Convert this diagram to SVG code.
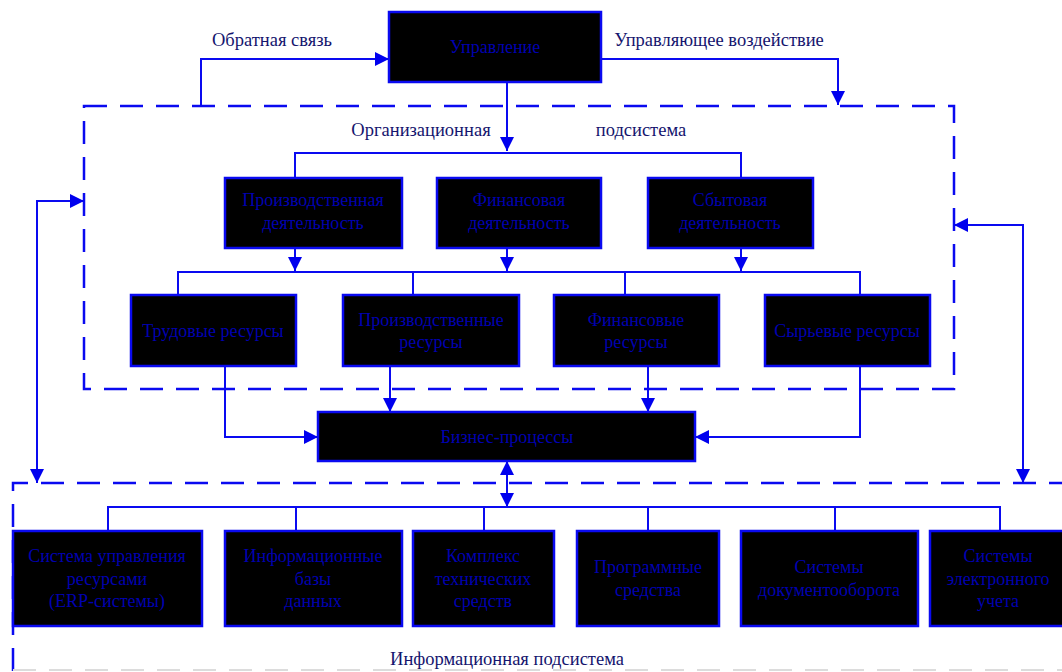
<svg xmlns="http://www.w3.org/2000/svg" width="1062" height="672" viewBox="0 0 1062 672">
<defs>
<marker id="ah" viewBox="0 0 10 10" refX="10" refY="5" markerWidth="14" markerHeight="14" markerUnits="userSpaceOnUse" orient="auto-start-reverse">
<path d="M0,0 L10,5 L0,10 z" fill="#0000ee"/>
</marker>
<style>
.box{fill:#000;stroke:#0a0af0;stroke-width:2.5}
.bt{font-family:"Liberation Serif",serif;font-size:18px;fill:#0000b0;text-anchor:middle;dominant-baseline:central}
.lb{font-family:"Liberation Serif",serif;font-size:18.5px;fill:#15156e;text-anchor:middle;dominant-baseline:central}
.c{fill:none;stroke:#0a0af0;stroke-width:2}
.ca{fill:none;stroke:#0a0af0;stroke-width:2;marker-end:url(#ah)}
.dash{fill:none;stroke:#0a0af0;stroke-width:2.5;stroke-dasharray:23 13}
</style>
</defs>
<rect width="1062" height="672" fill="#fff"/>

<g id="subsystems">
<path class="dash" d="M84,106 H954 V389 H84 Z"/>
<path class="dash" d="M13,671 V483 H1062"/>
<path d="M13,670 H1062" fill="none" stroke="#dcdcdc" stroke-width="2" stroke-dasharray="23 13"/>
</g>

<g id="labels">
<text class="lb" x="272" y="40">Обратная связь</text>
<text class="lb" x="719" y="40">Управляющее воздействие</text>
<text class="lb" x="421" y="130">Организационная</text>
<text class="lb" x="641" y="130">подсистема</text>
<text class="lb" x="507" y="659">Информационная подсистема</text>
</g>

<g id="connectors">
<path class="ca" d="M201,106 V59 H389"/>
<path class="ca" d="M601,59 H838 V105"/>
<path class="ca" d="M507,82 V151"/>
<path class="c" d="M295,178 V153 H741 V178"/>
<path class="ca" d="M295,248 V271"/>
<path class="ca" d="M507,248 V271"/>
<path class="ca" d="M741,248 V271"/>
<path class="c" d="M178,295 V272 H860 V295"/>
<path class="c" d="M413,272 V295"/>
<path class="c" d="M625,272 V295"/>
<path class="ca" d="M225,366 V437 H318"/>
<path class="ca" d="M390,366 V412"/>
<path class="ca" d="M648,366 V412"/>
<path class="ca" d="M860,366 V437 H695"/>
<path class="ca" d="M37,483 V201 H84" style="marker-start:url(#ah)"/>
<path class="ca" d="M1023,483 V225 H954" style="marker-start:url(#ah)"/>
<path class="ca" d="M507,507 V461" style="marker-start:url(#ah)"/>
<path class="c" d="M108,531 V507 H1000 V531"/>
<path class="c" d="M296,507 V531"/>
<path class="c" d="M484,507 V531"/>
<path class="c" d="M648,507 V531"/>
<path class="c" d="M835,507 V531"/>
</g>

<g id="upravlenie"><rect class="box" x="389" y="12" width="212" height="70"/><text class="bt" x="495" y="47">Управление</text></g>

<g id="proizv-deyat"><rect class="box" x="225" y="178" width="177" height="70"/><text class="bt" x="313" y="200">Производственная</text><text class="bt" x="313" y="223">деятельность</text></g>
<g id="fin-deyat"><rect class="box" x="437" y="178" width="164" height="70"/><text class="bt" x="519" y="200">Финансовая</text><text class="bt" x="519" y="223">деятельность</text></g>
<g id="sbyt-deyat"><rect class="box" x="648" y="178" width="165" height="70"/><text class="bt" x="730" y="200">Сбытовая</text><text class="bt" x="730" y="223">деятельность</text></g>

<g id="trud-res"><rect class="box" x="131" y="295" width="165" height="71"/><text class="bt" x="213" y="331">Трудовые ресурсы</text></g>
<g id="proizv-res"><rect class="box" x="343" y="295" width="176" height="71"/><text class="bt" x="431" y="320">Производственные</text><text class="bt" x="431" y="342">ресурсы</text></g>
<g id="fin-res"><rect class="box" x="554" y="295" width="165" height="71"/><text class="bt" x="636" y="320">Финансовые</text><text class="bt" x="636" y="342">ресурсы</text></g>
<g id="syr-res"><rect class="box" x="765" y="295" width="165" height="71"/><text class="bt" x="847" y="331">Сырьевые ресурсы</text></g>

<g id="biznes"><rect class="box" x="318" y="412" width="377" height="49"/><text class="bt" x="507" y="437">Бизнес-процессы</text></g>

<g id="erp"><rect class="box" x="13" y="531" width="189" height="95"/><text class="bt" x="107" y="556">Система управления</text><text class="bt" x="107" y="579">ресурсами</text><text class="bt" x="107" y="601">(ERP-системы)</text></g>
<g id="infobazy"><rect class="box" x="225" y="531" width="177" height="95"/><text class="bt" x="313" y="556">Информационные</text><text class="bt" x="313" y="579">базы</text><text class="bt" x="313" y="601">данных</text></g>
<g id="kompleks"><rect class="box" x="413" y="531" width="141" height="95"/><text class="bt" x="483" y="556">Комплекс</text><text class="bt" x="483" y="579">технических</text><text class="bt" x="483" y="601">средств</text></g>
<g id="program"><rect class="box" x="577" y="531" width="142" height="95"/><text class="bt" x="648" y="567">Программные</text><text class="bt" x="648" y="590">средства</text></g>
<g id="dokument"><rect class="box" x="741" y="531" width="177" height="95"/><text class="bt" x="829" y="567">Системы</text><text class="bt" x="829" y="590">документооборота</text></g>
<g id="elektron"><rect class="box" x="930" y="531" width="140" height="95"/><text class="bt" x="998" y="556">Системы</text><text class="bt" x="998" y="579">электронного</text><text class="bt" x="998" y="601">учета</text></g>
</svg>
